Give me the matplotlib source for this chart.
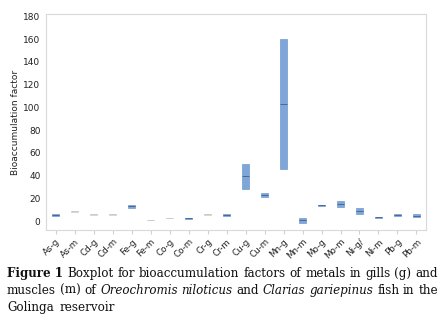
import numpy as np
import matplotlib
matplotlib.use("Agg")
import matplotlib.pyplot as plt

# categories and box stats (q1, median, q3)
labels = ["As-g", "As-m", "Cd-g", "Cd-m", "Fe-g", "Fe-m", "Co-g", "Co-m", "Cr-g", "Cr-m",
          "Cu-g", "Cu-m", "Mn-g", "Mn-m", "Mo-g", "Mo-m", "Ni-g/", "Ni-m", "Pb-g", "Pb-m"]
q1 = [4.6, 8.2, 5.6, 5.6, 11.9, 0.7, 2.7, 2.2, 5.6, 4.8,
      27.9, 20.9, 45.4, -1.4, 13.5, 12.7, 6.6, 2.7, 4.6, 3.4]
med = [5.6, 8.5, 5.9, 5.9, 12.9, 0.9, 2.9, 2.6, 5.9, 5.6,
       39.3, 22.9, 102.6, 0.9, 13.8, 15.0, 8.8, 3.2, 5.6, 4.7]
q3 = [6.6, 8.8, 6.2, 6.2, 14.1, 1.1, 3.1, 2.9, 6.2, 6.4,
      50.1, 24.9, 159.8, 2.9, 14.1, 17.6, 11.1, 3.8, 6.4, 5.9]

# boxes that show up as faint grey marks in the original
faint = ["As-m", "Cd-g", "Cd-m", "Fe-m", "Co-g", "Cr-g"]

fig = plt.figure(figsize=(4.47, 3.26), dpi=100)
ax = fig.add_axes([0.103, 0.294, 0.850, 0.663])

stats = []
for i, lab in enumerate(labels):
    stats.append(dict(label=lab, q1=q1[i], med=med[i], q3=q3[i],
                      whislo=q1[i], whishi=q3[i], fliers=[]))

bp = ax.bxp(stats, positions=np.arange(len(labels)), widths=0.36, patch_artist=True,
            showcaps=False, showfliers=False, manage_ticks=False,
            boxprops=dict(facecolor="#7ea6d8", edgecolor="#7299cf", linewidth=0.5),
            medianprops=dict(color="#3f5f8f", linewidth=0.6),
            whiskerprops=dict(linewidth=0))
for i, lab in enumerate(labels):
    if lab in faint:
        bp["boxes"][i].set_facecolor("#d8d8d8")
        bp["boxes"][i].set_edgecolor("#d0d0d0")
        bp["medians"][i].set_color("#c8c8c8")

ax.set_xlim(-0.5, len(labels) - 0.5)
ax.set_ylim(-8, 182)
ax.set_yticks(range(0, 181, 20))
ax.set_xticks(np.arange(len(labels)))
ax.set_xticklabels(labels, rotation=45, ha="right", rotation_mode="anchor", fontsize=6.3)
ax.tick_params(axis="y", length=0, labelsize=6.5, pad=4, colors="#222222")
ax.tick_params(axis="x", length=3, color="#d0d0d0", labelsize=6.3, pad=2, labelcolor="#222222")
for s in ax.spines.values():
    s.set_color("#d9d9d9")
    s.set_linewidth(0.8)
ax.set_ylabel("Bioaccumulation factor", fontsize=6.5, labelpad=2, color="#222222")

# caption, justified, with bold and italic runs
serif = "DejaVu Serif"
fs = 8.6
lines = [
    [("Figure 1", "bold", "normal"), ("Boxplot", "normal", "normal"), ("for", "normal", "normal"),
     ("bioaccumulation", "normal", "normal"), ("factors", "normal", "normal"), ("of", "normal", "normal"),
     ("metals", "normal", "normal"), ("in", "normal", "normal"), ("gills", "normal", "normal"),
     ("(g)", "normal", "normal"), ("and", "normal", "normal")],
    [("muscles", "normal", "normal"), ("(m)", "normal", "normal"), ("of", "normal", "normal"),
     ("Oreochromis", "normal", "italic"), ("niloticus", "normal", "italic"), ("and", "normal", "normal"),
     ("Clarias", "normal", "italic"), ("gariepinus", "normal", "italic"), ("fish", "normal", "normal"),
     ("in", "normal", "normal"), ("the", "normal", "normal")],
    [("Golinga", "normal", "normal"), ("reservoir", "normal", "normal")],
]
x0, x1 = 7 / 447, 438 / 447
ys = [1 - 277 / 326, 1 - 294 / 326, 1 - 311 / 326]
fig.canvas.draw()
r = fig.canvas.get_renderer()
for li, words in enumerate(lines):
    texts = [fig.text(0, ys[li], w, fontsize=fs, family=serif, weight=wt, style=st,
                      va="baseline", color="#111111") for w, wt, st in words]
    widths = [t.get_window_extent(r).width / fig.bbox.width for t in texts]
    if li < len(lines) - 1:
        gap = (x1 - x0 - sum(widths)) / (len(widths) - 1)
    else:
        gap = 0.012
    x = x0
    for t, w in zip(texts, widths):
        t.set_x(x)
        x += w + gap

fig.savefig("out.png", dpi=100)
